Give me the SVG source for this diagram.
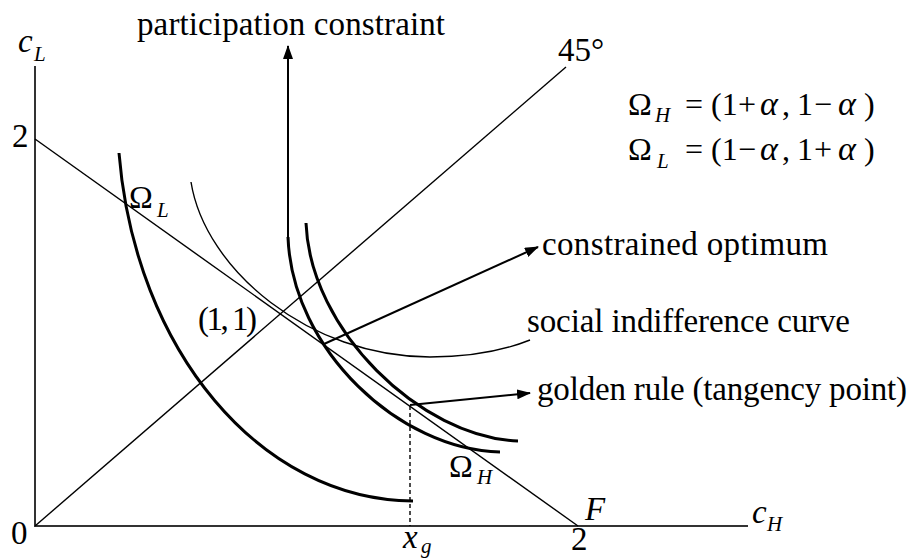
<svg xmlns="http://www.w3.org/2000/svg" width="916" height="558" viewBox="0 0 916 558">
<defs>
<style>
.t{font-family:"Liberation Serif","Times New Roman",serif;font-size:33px;fill:#000}
.i{font-style:italic}
.sub{font-family:"Liberation Serif","Times New Roman",serif;font-size:21px;font-style:italic;fill:#000}
.eq{font-family:"Liberation Serif","Times New Roman",serif;font-size:32px;fill:#000}
.al{font-size:34px;font-style:italic}
.axis{stroke:#333;stroke-width:2;fill:none}
.thin{stroke:#000;stroke-width:1.4;fill:none}
.thick{stroke:#000;stroke-width:3;fill:none}
.arr{stroke:#000;stroke-width:2;fill:none;marker-end:url(#ah)}
</style>
<marker id="ah" viewBox="0 0 14 10" markerWidth="14" markerHeight="10" refX="13" refY="5" orient="auto" markerUnits="userSpaceOnUse">
<path d="M0,0 L14,5 L0,10 z" fill="#000"/>
</marker>
</defs>
<rect width="916" height="558" fill="#fff"/>

<g id="axes">
<line class="axis" x1="35" y1="66" x2="35" y2="527"/>
<line class="axis" x1="34" y1="526" x2="748" y2="526"/>
<text class="t i" x="18" y="52">c</text><text class="sub" x="34" y="61">L</text>
<text class="t" x="12" y="147">2</text>
<text class="t" x="11" y="544">0</text>
<text class="t i" x="752" y="523">c</text><text class="sub" x="767" y="531">H</text>
<text class="t" x="571" y="550">2</text>
<text class="t i" x="403" y="548">x</text><text class="sub" x="421" y="553">g</text>
</g>

<g id="budget-line">
<line class="thin" x1="35" y1="139" x2="578" y2="526"/>
<text class="t i" x="585" y="520">F</text>
</g>

<g id="line-45">
<line class="thin" x1="35" y1="526" x2="566" y2="67"/>
<text class="t" x="558" y="61">45°</text>
</g>

<g id="omega-L-curve">
<path class="thick" d="M119,153 C135,350 260,500 413,501"/>
<text class="eq" x="129" y="208">Ω</text><text class="sub" x="157" y="217">L</text>
</g>

<g id="social-indifference-curve">
<path class="thin" d="M191,182 C205,270 310,357 430,357 C470,357 505,350 530,340"/>
</g>

<g id="participation-constraint-curve">
<path class="thick" d="M288,237 C292,350 400,450 500,452"/>
</g>

<g id="golden-rule-curve">
<path class="thick" d="M306,223 C310,330 420,437 518,441"/>
</g>

<g id="omega-H">
<text class="eq" x="449" y="477">Ω</text><text class="sub" x="477" y="484">H</text>
</g>

<g id="point-1-1">
<text class="t" x="198" y="330" textLength="59" lengthAdjust="spacing">(1, 1)</text>
</g>

<g id="x-g-guide">
<line x1="410" y1="406" x2="410" y2="526" stroke="#000" stroke-width="1.4" stroke-dasharray="4 3"/>
</g>

<g id="equations">
<text class="eq" x="628" y="115">Ω</text><text class="sub" x="655" y="122">H</text>
<text class="eq" x="685" y="115">=</text>
<text class="eq" x="711" y="115">(1</text>
<text class="eq" x="738" y="115">+</text>
<text class="eq al" x="760" y="115">α</text>
<text class="eq" x="782" y="115">,</text>
<text class="eq" x="797" y="115">1</text>
<text class="eq" x="814" y="115">−</text>
<text class="eq al" x="838" y="115">α</text>
<text class="eq" x="864" y="115">)</text>

<text class="eq" x="628" y="160">Ω</text><text class="sub" x="657" y="168">L</text>
<text class="eq" x="685" y="160">=</text>
<text class="eq" x="711" y="160">(1</text>
<text class="eq" x="738" y="160">−</text>
<text class="eq al" x="760" y="160">α</text>
<text class="eq" x="782" y="160">,</text>
<text class="eq" x="797" y="160">1</text>
<text class="eq" x="814" y="160">+</text>
<text class="eq al" x="838" y="160">α</text>
<text class="eq" x="864" y="160">)</text>
</g>

<g id="label-participation">
<text class="t" x="137" y="35" textLength="308" lengthAdjust="spacing">participation constraint</text>
</g>
<g id="label-constrained">
<text class="t" x="542" y="255" textLength="286" lengthAdjust="spacing">constrained optimum</text>
</g>
<g id="label-social">
<text class="t" x="527" y="332" textLength="323" lengthAdjust="spacing">social indifference curve</text>
</g>
<g id="label-golden">
<text class="t" x="537" y="400" textLength="370" lengthAdjust="spacing">golden rule (tangency point)</text>
</g>

<g id="connectors">
<line class="arr" x1="288" y1="238" x2="288" y2="46"/>
<line class="arr" x1="324" y1="344" x2="538" y2="247"/>
<line class="arr" x1="410" y1="405" x2="530" y2="393"/>
</g>
</svg>
